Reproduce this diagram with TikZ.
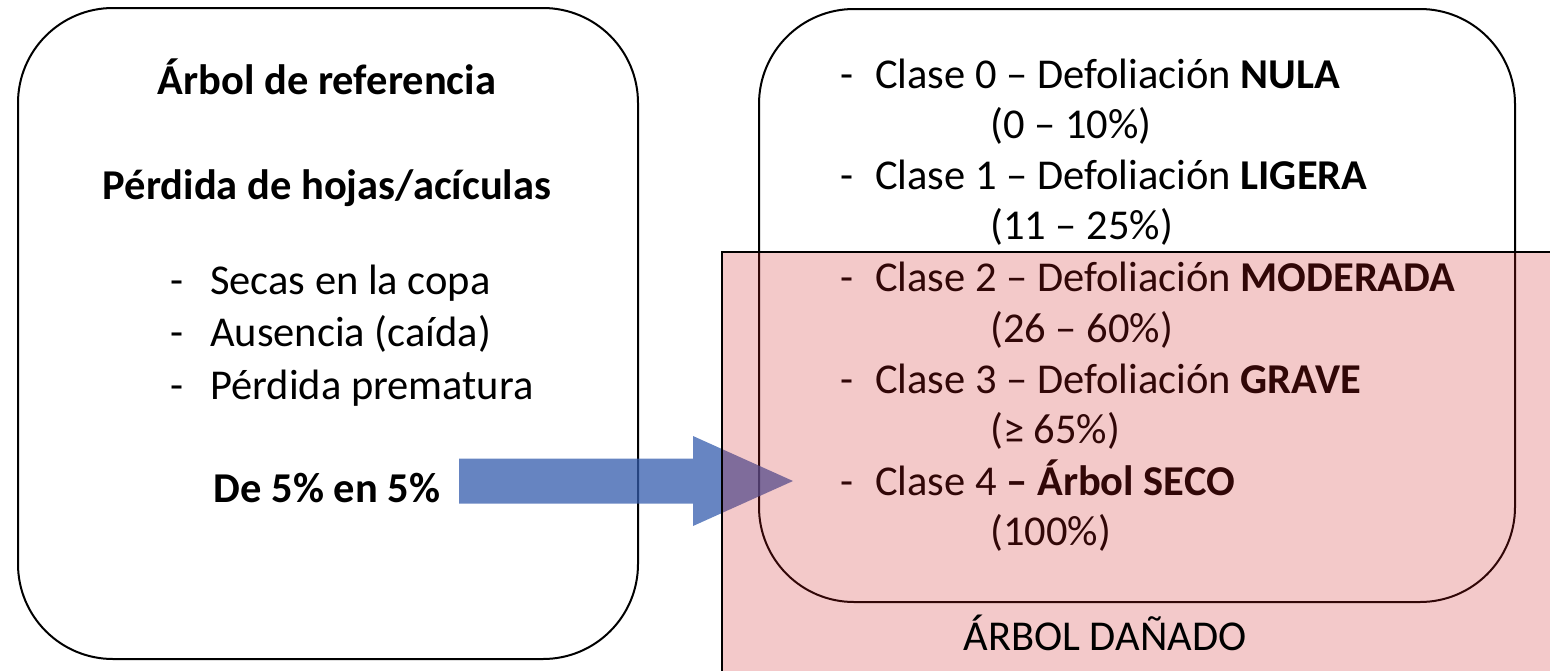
\documentclass[tikz,border=0pt]{standalone}
\usepackage{fontspec}
\setmainfont{Carlito}
\usetikzlibrary{calc}
\definecolor{dmgred}{RGB}{205,30,32}
\definecolor{arrowblue}{RGB}{52,92,173}
\tikzset{
  roundbox/.style={draw=black, line width=2pt, rounded corners=95pt, fill=white, inner sep=0pt, anchor=north west},
  txt/.style={anchor=base west, inner sep=0pt, font=\fontsize{42.5}{50}\selectfont},
  ctxt/.style={anchor=base, inner sep=0pt, font=\fontsize{42.5}{50}\selectfont},
  btxt/.style={anchor=base, inner sep=0pt, font=\fontsize{42.5}{50}\selectfont\bfseries},
  dmgbox/.style={draw=black, line width=1.6pt, fill=dmgred, fill opacity=0.24, inner sep=0pt, anchor=north west},
  arrowfill/.style={fill=arrowblue, opacity=0.75},
}
\begin{document}
\begin{tikzpicture}[x=1pt,y=-1pt]
\useasboundingbox (0,0) rectangle (1550,670);
\clip (0,0) rectangle (1550,670);
% boxes
\node[roundbox, minimum width=620pt, minimum height=651pt] (lbox) at (17,7) {};
\node[roundbox, minimum width=756pt, minimum height=593pt] (rbox) at (758,8) {};
% left texts
\node[btxt] (l1) at (327,94) {Árbol de referencia};
\node[btxt] (l2) at (327,199) {Pérdida de hojas/acículas};
\node[txt] (d1) at (170,294) {-};
\node[txt] (b1) at (210,294) {Secas en la copa};
\node[txt] (d2) at (170,346) {-};
\node[txt] (b2) at (210,346) {Ausencia (caída)};
\node[txt] (d3) at (170,399) {-};
\node[txt] (b3) at (210,399) {Pérdida prematura};
\node[btxt] (l3) at (327,502) {De 5\% en 5\%};
% right texts
\node[txt] (rd0) at (840,88) {-};
\node[txt] (c0) at (875,88) {Clase 0 – Defoliación \textbf{NULA}};
\node[txt] (p0) at (990,138) {(0 – 10\%)};
\node[txt] (rd1) at (840,189) {-};
\node[txt] (c1) at (875,189) {Clase 1 – Defoliación \textbf{LIGERA}};
\node[txt] (p1) at (990,239) {(11 – 25\%)};
\node[txt] (rd2) at (840,291) {-};
\node[txt] (c2) at (875,291) {Clase 2 – Defoliación \textbf{MODERADA}};
\node[txt] (p2) at (990,342) {(26 – 60\%)};
\node[txt] (rd3) at (840,393) {-};
\node[txt] (c3) at (875,393) {Clase 3 – Defoliación \textbf{GRAVE}};
\node[txt] (p3) at (990,443) {(≥ 65\%)};
\node[txt] (rd4) at (840,495) {-};
\node[txt] (c4) at (875,495) {Clase 4 \textbf{– Árbol SECO}};
\node[txt] (p4) at (990,545) {(100\%)};
% arrow
\coordinate (ta) at (459,481);
\coordinate (tb) at (793,481);
\fill[arrowfill] ($(ta)+(0,-22.5)$) -- ($(tb)+(-100,-22.5)$) -- ($(tb)+(-100,-45)$) -- (tb)
  -- ($(tb)+(-100,45)$) -- ($(tb)+(-100,22.5)$) -- ($(ta)+(0,22.5)$) -- cycle;
% damaged overlay
\node[dmgbox, minimum width=845pt, minimum height=430pt] (dmg) at (721,251) {};
\node[ctxt] (dmglabel) at (1105,650) {ÁRBOL DAÑADO};
\end{tikzpicture}
\end{document}
